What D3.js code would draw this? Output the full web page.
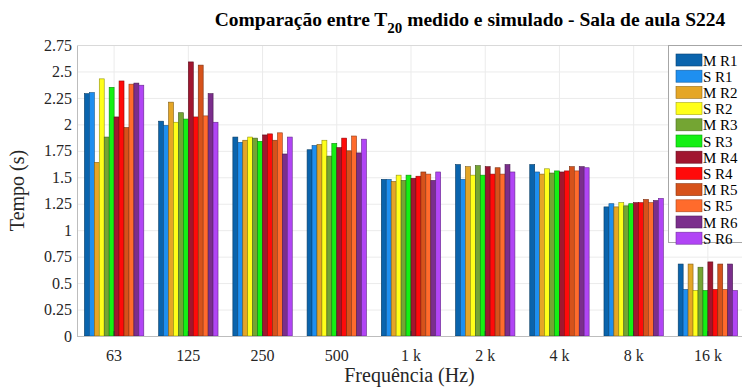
<!DOCTYPE html>
<html>
<head>
<meta charset="utf-8">
<script src="https://cdn.jsdelivr.net/npm/d3@7/dist/d3.min.js"></script>
<style>
  body { margin: 0; background: #fff; }
  svg text { font-family: "Liberation Serif", "Times New Roman", serif; }
</style>
</head>
<body>
<div id="chart"></div>
<script>
// frequency bands
const bands = ["63", "125", "250", "500", "1 k", "2 k", "4 k", "8 k", "16 k"];
// series names (M = medido, S = simulado)
const seriesNames = ["M R1", "S R1", "M R2", "S R2", "M R3", "S R3", "M R4", "S R4", "M R5", "S R5", "M R6", "S R6"];
const seriesColors = ["#0a64ad", "#1e8ff0", "#e5a626", "#ffff1a", "#74a533", "#14f014", "#a1162f", "#ff0a0a", "#d6521b", "#ff6b2c", "#7b2e8c", "#b145f5"];

// T20 values (s), one array per series, one value per band
const mR1 = [2.29, 2.03, 1.88, 1.76, 1.48, 1.62, 1.62, 1.22, 0.68];
const sR1 = [2.30, 1.99, 1.83, 1.80, 1.48, 1.48, 1.55, 1.25, 0.44];
const mR2 = [1.64, 2.21, 1.85, 1.81, 1.46, 1.60, 1.53, 1.22, 0.68];
const sR2 = [2.43, 2.02, 1.88, 1.85, 1.52, 1.52, 1.58, 1.26, 0.43];
const mR3 = [1.88, 2.11, 1.87, 1.70, 1.47, 1.61, 1.54, 1.23, 0.65];
const sR3 = [2.35, 2.05, 1.84, 1.82, 1.52, 1.52, 1.56, 1.25, 0.43];
const mR4 = [2.07, 2.59, 1.90, 1.78, 1.49, 1.60, 1.55, 1.26, 0.70];
const sR4 = [2.41, 2.07, 1.91, 1.87, 1.51, 1.53, 1.56, 1.26, 0.44];
const mR5 = [1.97, 2.56, 1.85, 1.75, 1.55, 1.59, 1.60, 1.29, 0.68];
const sR5 = [2.38, 2.08, 1.92, 1.89, 1.53, 1.53, 1.56, 1.26, 0.44];
const mR6 = [2.39, 2.29, 1.72, 1.73, 1.47, 1.62, 1.60, 1.28, 0.68];
const sR6 = [2.37, 2.02, 1.88, 1.86, 1.55, 1.55, 1.59, 1.30, 0.43];
const seriesValues = [mR1, sR1, mR2, sR2, mR3, sR3, mR4, sR4, mR5, sR5, mR6, sR6];

const yTicks = [0, 0.25, 0.5, 0.75, 1, 1.25, 1.5, 1.75, 2, 2.25, 2.5, 2.75];

const W = 742, H = 389;
const margin = {top: 45, right: -3, bottom: 53, left: 77};

const svg = d3.select("#chart").append("svg")
    .attr("width", W)
    .attr("height", H);

const x0 = d3.scaleBand()
    .domain(bands)
    .range([margin.left, W - margin.right])
    .paddingInner(0.2)
    .paddingOuter(0.1);

const x1 = d3.scaleBand()
    .domain(seriesNames)
    .range([0, x0.bandwidth()]);

const y = d3.scaleLinear()
    .domain([0, 2.75])
    .range([H - margin.bottom, margin.top]);

const color = d3.scaleOrdinal().domain(seriesNames).range(seriesColors);

// gridlines
svg.append("g")
    .selectAll("line")
    .data(yTicks)
    .enter().append("line")
    .attr("x1", margin.left)
    .attr("x2", W)
    .attr("y1", d => y(d) + 0.5)
    .attr("y2", d => y(d) + 0.5)
    .attr("stroke", "#ebebeb")
    .attr("stroke-width", 1);

svg.append("g")
    .selectAll("line")
    .data(bands)
    .enter().append("line")
    .attr("x1", d => x0(d) + x0.bandwidth() / 2)
    .attr("x2", d => x0(d) + x0.bandwidth() / 2)
    .attr("y1", y(0))
    .attr("y2", y(2.75))
    .attr("stroke", "#ebebeb")
    .attr("stroke-width", 1);

// bars
const groups = svg.append("g")
    .selectAll("g")
    .data(bands)
    .enter().append("g")
    .attr("transform", d => "translate(" + x0(d) + ",0)");

groups.selectAll("rect")
    .data((d, i) => seriesNames.map((s, k) => ({series: s, value: seriesValues[k][i]})))
    .enter().append("rect")
    .attr("x", d => x1(d.series))
    .attr("width", x1.bandwidth())
    .attr("y", d => y(d.value))
    .attr("height", d => y(0) - y(d.value))
    .attr("fill", d => color(d.series))
    .attr("stroke", d => d3.color(color(d.series)).darker(1.6))
    .attr("stroke-width", 0.6);

// axes box lines
svg.append("line")
    .attr("x1", margin.left + 0.5).attr("x2", margin.left + 0.5)
    .attr("y1", y(2.75)).attr("y2", y(0))
    .attr("stroke", "#bdbdbd");
svg.append("line")
    .attr("x1", margin.left).attr("x2", W)
    .attr("y1", y(0) + 0.5).attr("y2", y(0) + 0.5)
    .attr("stroke", "#bdbdbd").attr("stroke-width", 1.2);
svg.append("line")
    .attr("x1", margin.left).attr("x2", W)
    .attr("y1", y(2.75) + 0.5).attr("y2", y(2.75) + 0.5)
    .attr("stroke", "#d9d9d9");

// x axis
const xAxis = svg.append("g")
    .attr("transform", "translate(0," + y(0) + ")")
    .call(d3.axisBottom(x0).tickSize(0).tickPadding(14));
xAxis.select(".domain").remove();
xAxis.selectAll("text")
    .attr("fill", "#262626")
    .style("font-size", "16px");
// small inward ticks
svg.append("g")
    .selectAll("line")
    .data(bands)
    .enter().append("line")
    .attr("x1", d => x0(d) + x0.bandwidth() / 2)
    .attr("x2", d => x0(d) + x0.bandwidth() / 2)
    .attr("y1", y(0))
    .attr("y2", y(0) - 5)
    .attr("stroke", "#333");

// y axis
const yAxis = svg.append("g")
    .attr("transform", "translate(" + margin.left + ",0)")
    .call(d3.axisLeft(y).tickValues(yTicks).tickSize(0).tickPadding(5).tickFormat(d3.format("~g")));
yAxis.select(".domain").remove();
yAxis.selectAll("text")
    .attr("fill", "#262626")
    .style("font-size", "16px");

// axis titles
svg.append("text")
    .attr("x", (margin.left + W) / 2)
    .attr("y", 382)
    .attr("text-anchor", "middle")
    .attr("fill", "#262626")
    .style("font-size", "20px")
    .text("Frequência (Hz)");

svg.append("text")
    .attr("transform", "translate(24," + (y(1.375)) + ") rotate(-90)")
    .attr("text-anchor", "middle")
    .attr("fill", "#262626")
    .style("font-size", "20px")
    .text("Tempo (s)");

// title
const title = svg.append("text")
    .attr("x", 470)
    .attr("y", 26)
    .attr("text-anchor", "middle")
    .attr("fill", "#000")
    .style("font-size", "19.5px")
    .style("font-weight", "bold");
title.append("tspan").text("Comparação entre T");
title.append("tspan").attr("dy", 7).style("font-size", "15px").text("20");
title.append("tspan").attr("dy", -7).text(" medido e simulado - Sala de aula S224");

// legend
const lg = svg.append("g").attr("transform", "translate(668,45)");
lg.append("rect")
    .attr("x", 0.5).attr("y", 0.5)
    .attr("width", 80).attr("height", 197)
    .attr("fill", "#fff")
    .attr("stroke", "#a6a6a6");
const rows = lg.selectAll("g.item")
    .data(seriesNames)
    .enter().append("g")
    .attr("class", "item")
    .attr("transform", (d, i) => "translate(8," + (9 + i * 16.2) + ")");
rows.append("rect")
    .attr("width", 26).attr("height", 12)
    .attr("fill", d => color(d))
    .attr("stroke", d => d3.color(color(d)).darker(1.2))
    .attr("stroke-width", 0.6);
rows.append("text")
    .attr("x", 27)
    .attr("y", 11.5)
    .attr("fill", "#000")
    .style("font-size", "15px")
    .text(d => d);
</script>
</body>
</html>
